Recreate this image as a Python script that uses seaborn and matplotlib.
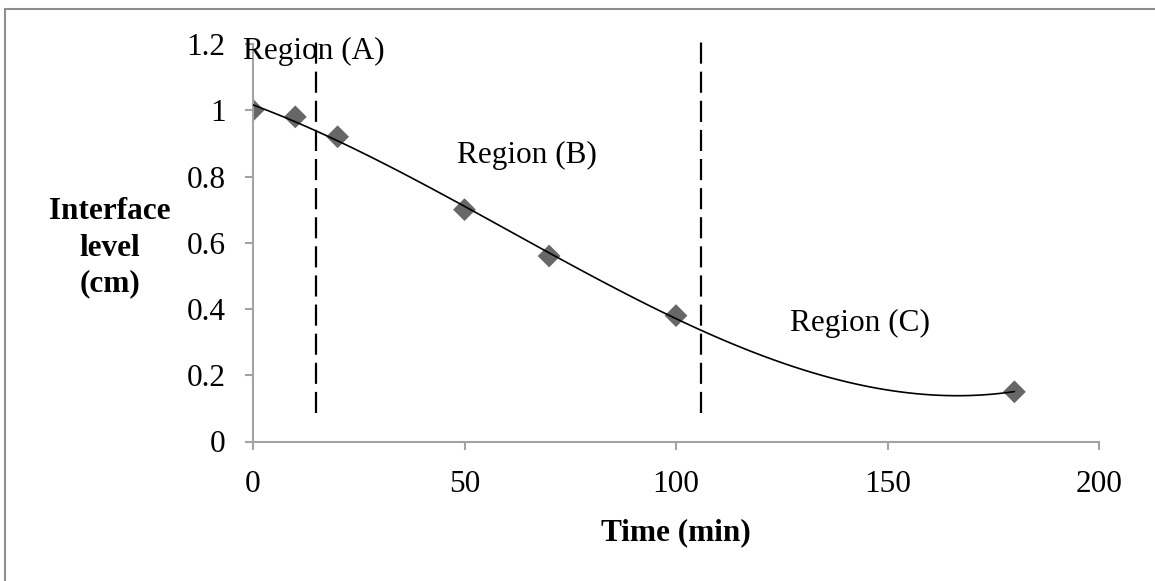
import numpy as np
import pandas as pd
import matplotlib
matplotlib.use('Agg')
import matplotlib.pyplot as plt
from matplotlib.lines import Line2D
import seaborn as sns

# data
time_min = [0, 10, 20, 50, 70, 100, 180]
interface_cm = [1.0, 0.98, 0.92, 0.70, 0.56, 0.38, 0.15]
x_ticks = [0, 50, 100, 150, 200]
y_ticks = [0, 0.2, 0.4, 0.6, 0.8, 1.0, 1.2]
y_tick_labels = ['0', '0.2', '0.4', '0.6', '0.8', '1', '1.2']
region_bounds = [15, 106]
region_names = ['Region (A)', 'Region (B)', 'Region (C)']
region_xy = [(-2.4, 1.155), (48.2, 0.840), (127.0, 0.335)]

df = pd.DataFrame({'time': time_min, 'level': interface_cm})

sns.set_theme(style='white')
plt.rcParams['font.family'] = ['Liberation Serif', 'DejaVu Serif']
fs = 22.5
axis_gray = '#a3a3a3'

fig = plt.figure(figsize=(11.55, 5.81), dpi=100)
ax = fig.add_axes([253 / 1155, 1 - 441.5 / 581, 846 / 1155, 397.5 / 581])

sns.scatterplot(data=df, x='time', y='level', marker='D', s=135,
                color='#676767', edgecolor='none', ax=ax, zorder=2)
# Excel style polynomial (order 3) trendline
sns.regplot(data=df, x='time', y='level', order=3, ci=None, scatter=False,
            line_kws=dict(color='black', lw=1.2, zorder=3), ax=ax)

for xb in region_bounds:
    ax.plot([xb, xb], [0.085, 1.215], color='black', lw=1.6,
            dashes=(9.5, 3.6), clip_on=False, zorder=4)

for name, (tx, ty) in zip(region_names, region_xy):
    ax.text(tx, ty, name, fontsize=fs, ha='left', va='baseline', color='black')

ax.set_xlim(0, 200)
ax.set_ylim(0, 1.2)
ax.set_xticks(x_ticks)
ax.set_xticklabels([str(t) for t in x_ticks])
ax.set_yticks(y_ticks)
ax.set_yticklabels(y_tick_labels)

sns.despine(ax=ax)
for side in ['left', 'bottom']:
    ax.spines[side].set_color(axis_gray)
    ax.spines[side].set_linewidth(1.5)
ax.tick_params(axis='both', which='major', direction='out', length=5.8,
               width=1.5, color=axis_gray, labelsize=fs, labelcolor='black')
ax.tick_params(axis='x', pad=15, bottom=True)
ax.tick_params(axis='y', pad=14, left=True)

ax.set_xlabel('Time (min)', fontsize=fs, fontweight='bold', color='black')
ax.xaxis.set_label_coords(0.5, (441.5 - 540) / 397.5)
ax.xaxis.label.set_va('baseline')
ax.set_ylabel('Interface\nlevel\n(cm)', fontsize=fs, fontweight='bold',
              color='black', rotation=0, ha='center', va='center',
              linespacing=1.32)
ax.yaxis.set_label_coords((110 - 253) / 846, (441.5 - 248) / 397.5)

# chart area border (only top and left visible in the crop)
bx = 4.5 / 1155
by = 1 - 8.5 / 581
fig.add_artist(Line2D([bx, bx], [0, by], transform=fig.transFigure,
                      color='#8e8e8e', lw=1.5))
fig.add_artist(Line2D([bx, 1], [by, by], transform=fig.transFigure,
                      color='#8e8e8e', lw=1.5))

fig.savefig('out.png', dpi=100)
plt.close(fig)
